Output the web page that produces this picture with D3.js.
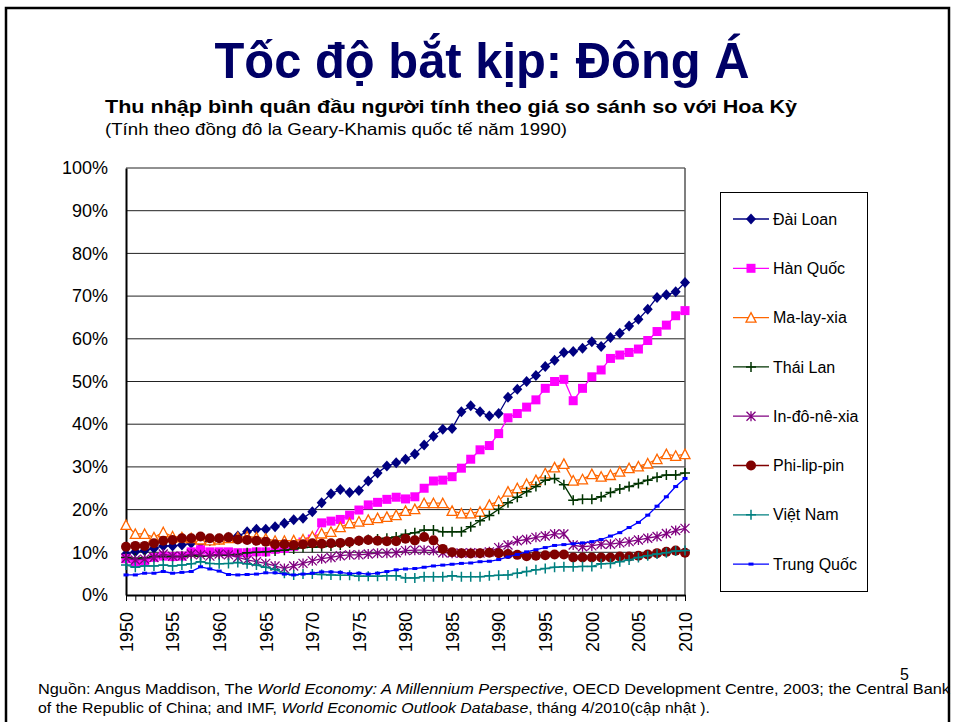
<!DOCTYPE html>
<html>
<head>
<meta charset="utf-8">
<script src="https://cdn.jsdelivr.net/npm/d3@7"></script>
<style>
  body { margin: 0; background: #fff; }
  svg { display: block; font-family: "Liberation Sans", Arial, sans-serif; }
</style>
</head>
<body>
<div id="chart"></div>
<script>
// Years 1950-2010
const years = d3.range(1950, 2011);

// Income per capita relative to the US (%)
const daiLoan = [9.6, 10.1, 10.4, 10.9, 11.5, 11.5, 11.7, 12.1, 12.3, 12.7,
  13.0, 13.5, 13.8, 14.8, 15.4, 15.4, 16.0, 16.8, 17.6, 18.0,
  19.5, 21.6, 23.7, 24.7, 24.0, 24.5, 26.7, 28.6, 30.2, 31.0,
  31.8, 33.0, 35.1, 37.2, 38.8, 39.0, 42.9, 44.3, 42.9, 41.9,
  42.5, 46.3, 48.2, 50.0, 51.4, 53.5, 55.0, 56.8, 57.0, 57.8,
  59.3, 58.2, 60.3, 61.3, 63.0, 64.6, 66.9, 69.7, 70.3, 71.0,
  73.2];
const hanQuoc = [8.5, 7.6, 7.9, 8.8, 9.1, 9.0, 9.1, 10.1, 10.6, 10.1,
  10.1, 10.1, 9.9, 9.9, 10.1, 10.1, 10.7, 10.9, 11.4, 12.4,
  13.1, 16.9, 17.3, 17.7, 18.7, 19.9, 21.1, 21.7, 22.4, 22.9,
  22.5, 23.0, 25.0, 26.7, 26.9, 27.7, 29.7, 31.8, 34.0, 35.0,
  37.8, 41.5, 42.5, 44.0, 45.7, 48.4, 50.0, 50.5, 45.5, 48.4,
  51.1, 52.7, 55.4, 56.2, 56.8, 57.6, 59.6, 61.7, 63.2, 65.4,
  66.6];
const malayxia = [16.4, 14.3, 14.3, 13.5, 14.7, 13.7, 13.5, 13.3, 13.0, 12.8,
  13.0, 13.3, 13.5, 13.7, 13.5, 13.2, 12.7, 12.7, 12.8, 13.0,
  13.7, 14.4, 14.8, 15.9, 16.8, 17.2, 17.6, 18.0, 18.3, 18.7,
  19.7, 20.1, 21.5, 21.5, 21.5, 19.7, 19.1, 19.1, 19.5, 21.1,
  22.0, 24.2, 25.0, 26.0, 26.9, 28.5, 29.9, 30.7, 26.8, 27.1,
  28.3, 27.7, 28.1, 28.9, 29.7, 30.1, 30.8, 31.8, 33.0, 32.6,
  33.0];
const thaiLan = [8.8, 8.6, 8.7, 9.0, 9.0, 9.0, 9.0, 9.2, 9.1, 9.2,
  9.4, 9.3, 9.5, 9.9, 10.0, 10.1, 10.3, 10.5, 10.8, 11.1,
  11.2, 11.3, 11.5, 11.7, 12.2, 12.7, 13.0, 13.1, 13.3, 13.6,
  14.2, 14.6, 15.2, 15.2, 14.8, 14.8, 14.8, 16.0, 17.4, 18.6,
  20.1, 21.6, 22.9, 24.2, 25.4, 26.9, 27.3, 25.8, 22.2, 22.4,
  22.4, 23.0, 24.0, 24.8, 25.4, 26.1, 26.9, 27.6, 28.1, 28.1,
  28.6];
const indonexia = [8.6, 8.2, 8.4, 8.8, 9.6, 9.1, 9.1, 9.6, 9.4, 9.1,
  9.6, 9.4, 8.8, 8.2, 7.8, 7.4, 6.8, 6.2, 6.8, 7.4,
  8.0, 8.5, 8.8, 9.2, 9.4, 9.4, 9.6, 9.8, 9.8, 9.9,
  10.4, 10.5, 10.5, 10.4, 9.9, 9.8, 9.8, 9.9, 9.8, 10.1,
  11.1, 11.7, 12.7, 13.0, 13.5, 13.8, 14.3, 14.3, 11.7, 11.3,
  11.5, 11.9, 11.9, 12.2, 12.5, 12.9, 13.3, 13.7, 14.4, 15.1,
  15.6];
const philippin = [11.3, 11.5, 11.5, 12.1, 12.7, 12.9, 13.3, 13.3, 13.7, 13.3,
  13.3, 13.5, 13.0, 12.9, 12.7, 12.5, 11.9, 11.9, 11.7, 11.9,
  12.1, 12.0, 12.1, 12.2, 12.4, 12.7, 12.9, 12.7, 12.6, 12.6,
  13.2, 12.8, 13.6, 12.8, 10.8, 10.0, 9.8, 9.7, 9.8, 9.9,
  9.8, 9.6, 9.4, 9.1, 9.2, 9.3, 9.5, 9.5, 8.8, 8.8,
  8.8, 8.8, 8.8, 9.0, 9.0, 9.2, 9.5, 9.8, 10.1, 10.4,
  9.9];
const vietNam = [7.0, 6.5, 6.8, 6.8, 7.0, 6.8, 7.0, 7.3, 7.8, 7.4,
  7.3, 7.4, 7.6, 7.3, 7.0, 6.5, 6.0, 5.1, 4.7, 4.9,
  4.9, 4.8, 4.7, 4.6, 4.6, 4.4, 4.4, 4.4, 4.5, 4.5,
  4.0, 4.0, 4.3, 4.3, 4.3, 4.5, 4.3, 4.3, 4.3, 4.5,
  4.6, 4.7, 5.1, 5.5, 5.9, 6.2, 6.5, 6.6, 6.6, 6.7,
  6.7, 7.3, 7.4, 7.8, 8.2, 8.8, 9.2, 9.6, 9.9, 10.3,
  10.4];
const trungQuoc = [4.7, 4.7, 5.1, 5.1, 5.5, 5.1, 5.3, 5.5, 6.6, 6.1,
  5.6, 4.8, 4.7, 4.8, 4.9, 5.2, 5.2, 4.9, 4.7, 4.9,
  5.1, 5.4, 5.4, 5.3, 5.0, 5.1, 4.9, 5.1, 5.5, 5.9,
  6.1, 6.2, 6.5, 6.8, 7.0, 7.2, 7.4, 7.5, 7.8, 7.9,
  8.3, 8.9, 9.5, 10.1, 10.6, 11.1, 11.6, 11.8, 12.0, 12.2,
  12.5, 13.0, 13.8, 14.6, 15.8, 17.0, 18.7, 20.8, 23.0, 25.4,
  27.3];

const seriesNames = ["Đài Loan", "Hàn Quốc", "Ma-lay-xia", "Thái Lan",
  "In-đô-nê-xia", "Phi-lip-pin", "Việt Nam", "Trung Quốc"];
const yTicks = [0, 10, 20, 30, 40, 50, 60, 70, 80, 90, 100];
const xLabelYears = [1950, 1955, 1960, 1965, 1970, 1975, 1980, 1985, 1990, 1995, 2000, 2005, 2010];

const series = [
  { name: seriesNames[0], values: daiLoan, color: "#000080", marker: "diamond" },
  { name: seriesNames[1], values: hanQuoc, color: "#ff00ff", marker: "square" },
  { name: seriesNames[2], values: malayxia, color: "#ff6600", marker: "triangle" },
  { name: seriesNames[3], values: thaiLan, color: "#003300", marker: "plus" },
  { name: seriesNames[4], values: indonexia, color: "#800080", marker: "star" },
  { name: seriesNames[5], values: philippin, color: "#800000", marker: "circle" },
  { name: seriesNames[6], values: vietNam, color: "#008080", marker: "plus" },
  { name: seriesNames[7], values: trungQuoc, color: "#0000ff", marker: "dash" }
];

const W = 954, H = 722;
const plot = { left: 126, right: 685, top: 168, bottom: 595 };

const svg = d3.select("#chart").append("svg")
  .attr("width", W).attr("height", H);

svg.append("rect").attr("width", W).attr("height", H).attr("fill", "#fff");

// slide frame
svg.append("path")
  .attr("d", `M6,${H} V8 H949 V${H}`)
  .attr("fill", "none").attr("stroke", "#000").attr("stroke-width", 2.5);

// Titles
svg.append("text")
  .attr("x", 482).attr("y", 78)
  .attr("text-anchor", "middle")
  .attr("font-size", 50).attr("font-weight", "bold")
  .attr("fill", "#000066")
  .attr("textLength", 535).attr("lengthAdjust", "spacingAndGlyphs")
  .text("Tốc độ bắt kịp: Đông Á");

svg.append("text")
  .attr("x", 105).attr("y", 113)
  .attr("font-size", 18.5).attr("font-weight", "bold")
  .attr("textLength", 692).attr("lengthAdjust", "spacingAndGlyphs")
  .text("Thu nhập bình quân đầu người tính theo giá so sánh so với Hoa Kỳ");

svg.append("text")
  .attr("x", 105).attr("y", 135)
  .attr("font-size", 16.5)
  .attr("textLength", 462).attr("lengthAdjust", "spacingAndGlyphs")
  .text("(Tính theo đồng đô la Geary-Khamis quốc tế năm 1990)");

// Scales
const x = d3.scaleLinear().domain([1950, 2010]).range([plot.left, plot.right]);
const y = d3.scaleLinear().domain([0, 100]).range([plot.bottom, plot.top]);

// Grid
svg.append("g")
  .selectAll("line")
  .data(yTicks.filter(d => d > 0))
  .join("line")
  .attr("x1", plot.left).attr("x2", plot.right)
  .attr("y1", d => y(d)).attr("y2", d => y(d))
  .attr("stroke", "#222").attr("stroke-width", 1);

// right border
svg.append("line")
  .attr("x1", plot.right).attr("x2", plot.right)
  .attr("y1", plot.top).attr("y2", plot.bottom)
  .attr("stroke", "#555").attr("stroke-width", 1.5);

// Y axis
const yAxis = svg.append("g")
  .attr("transform", `translate(${plot.left},0)`)
  .call(d3.axisLeft(y).tickValues(yTicks).tickSize(0).tickPadding(18)
    .tickFormat(d => d + "%"));
yAxis.select(".domain").attr("stroke", "#000").attr("stroke-width", 2);
yAxis.selectAll("text").attr("font-size", 18).attr("fill", "#000")
  .attr("font-family", "Liberation Sans, Arial, sans-serif");

// X axis
const xAxis = svg.append("g")
  .attr("transform", `translate(0,${plot.bottom})`)
  .call(d3.axisBottom(x).tickValues(years).tickSize(6).tickSizeOuter(0)
    .tickFormat(d => xLabelYears.includes(d) ? String(d) : ""));
xAxis.select(".domain").attr("stroke", "#000").attr("stroke-width", 2);
xAxis.selectAll(".tick line").attr("stroke", "#000");
xAxis.selectAll("text")
  .attr("font-size", 18).attr("fill", "#000")
  .attr("font-family", "Liberation Sans, Arial, sans-serif")
  .attr("transform", "rotate(-90)")
  .attr("text-anchor", "end")
  .attr("x", -17).attr("y", 0).attr("dy", "0.35em");

// Marker drawing
function drawMarker(g, type, color) {
  switch (type) {
    case "diamond":
      g.append("path").attr("d", "M0,-5.5L5,0L0,5.5L-5,0Z").attr("fill", color);
      break;
    case "square":
      g.append("rect").attr("x", -4.5).attr("y", -4.5).attr("width", 9).attr("height", 9)
        .attr("fill", color);
      break;
    case "triangle":
      g.append("path").attr("d", "M0,-5L5,4.5L-5,4.5Z")
        .attr("fill", "#fff").attr("stroke", color).attr("stroke-width", 1.3);
      break;
    case "plus":
      g.append("path").attr("d", "M-5,0H5M0,-5V5")
        .attr("stroke", color).attr("stroke-width", 1.5);
      break;
    case "star":
      g.append("path").attr("d", "M-4.5,-4.5L4.5,4.5M-4.5,4.5L4.5,-4.5M0,-5V5")
        .attr("stroke", color).attr("stroke-width", 1.3);
      break;
    case "circle":
      g.append("circle").attr("r", 5).attr("fill", color);
      break;
    case "dash":
      g.append("rect").attr("x", -2.5).attr("y", -1.5).attr("width", 5).attr("height", 3)
        .attr("fill", color);
      break;
  }
}

const line = d3.line()
  .x((d, i) => x(years[i]))
  .y(d => y(d));

series.forEach(s => {
  const g = svg.append("g");
  g.append("path")
    .datum(s.values)
    .attr("d", line)
    .attr("fill", "none")
    .attr("stroke", s.color)
    .attr("stroke-width", 1.3);
  s.values.forEach((v, i) => {
    const m = g.append("g").attr("transform", `translate(${x(years[i])},${y(v)})`);
    drawMarker(m, s.marker, s.color);
  });
});

// Legend
const legend = svg.append("g");
legend.append("rect")
  .attr("x", 720.5).attr("y", 192.5).attr("width", 147).attr("height", 399)
  .attr("fill", "#fff").attr("stroke", "#000").attr("stroke-width", 1);

series.forEach((s, i) => {
  const ly = 219 + i * 49.3;
  const g = legend.append("g").attr("transform", `translate(0,${ly})`);
  g.append("line").attr("x1", 733).attr("x2", 769).attr("y1", 0).attr("y2", 0)
    .attr("stroke", s.color).attr("stroke-width", 1.3);
  const m = g.append("g").attr("transform", "translate(751,0)");
  drawMarker(m, s.marker, s.color);
  g.append("text").attr("x", 773).attr("y", 0).attr("dy", "0.35em")
    .attr("font-size", 16).text(s.name);
});

// Source note
const note1 = svg.append("text").attr("x", 38).attr("y", 694).attr("font-size", 14.5)
  .attr("textLength", 912).attr("lengthAdjust", "spacingAndGlyphs");
note1.append("tspan").text("Nguồn: Angus Maddison, The ");
note1.append("tspan").attr("font-style", "italic").text("World Economy: A Millennium Perspective");
note1.append("tspan").text(", OECD Development Centre, 2003; the Central Bank");

const note2 = svg.append("text").attr("x", 38).attr("y", 713).attr("font-size", 14.5)
  .attr("textLength", 672).attr("lengthAdjust", "spacingAndGlyphs");
note2.append("tspan").text("of the Republic of China; and IMF, ");
note2.append("tspan").attr("font-style", "italic").text("World Economic Outlook Database");
note2.append("tspan").text(", tháng 4/2010(cập nhật ).");

// page number
svg.append("text").attr("x", 900).attr("y", 680).attr("font-size", 16).text("5");
</script>
</body>
</html>
